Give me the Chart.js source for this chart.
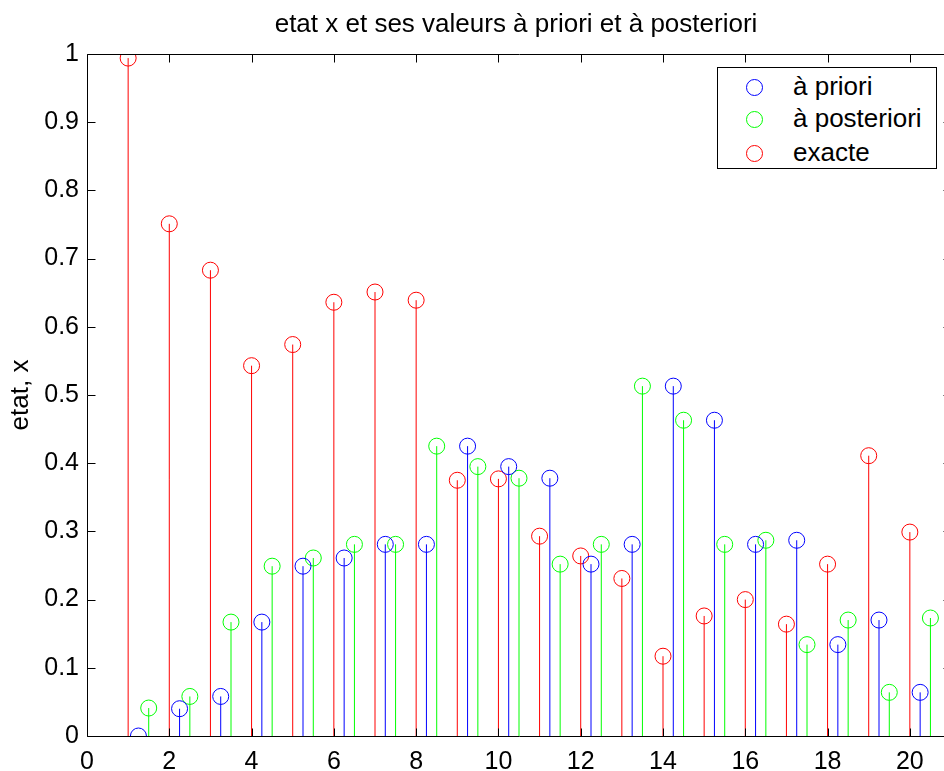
<!DOCTYPE html>
<html>
<head>
<meta charset="utf-8">
<script src="https://cdn.jsdelivr.net/npm/chart.js@4.4.1/dist/chart.umd.min.js"></script>
<style>
  html, body { margin: 0; padding: 0; background: #fff; overflow: hidden; width: 944px; height: 771px; }
  #wrap { position: relative; width: 944px; height: 771px; overflow: hidden; }
  canvas { position: absolute; left: 0; top: 0; }
  #legend {
    position: absolute; left: 717px; top: 67px; width: 220px; height: 102px;
    border: 1px solid #000; background: #fff; box-sizing: border-box;
    font-family: "Liberation Sans", Arial, sans-serif; font-size: 26px; color: #000;
  }
  .row { position: absolute; left: 0; height: 30px; line-height: 30px; white-space: nowrap; }
  .mk { position: absolute; left: 28px; top: 6px; width: 15px; height: 15px; border-radius: 50%; border: 1px solid; box-sizing: content-box; }
  .lb { position: absolute; left: 75px; top: -2px; }
</style>
</head>
<body>
<div id="wrap">
  <canvas id="c" width="960" height="771"></canvas>
  <div id="legend"></div>
</div>
<script>
// ---- data ----
const titleText = "etat x et ses valeurs à priori et à posteriori";
const yAxisLabel = "etat, x";
const seriesNames = ["à priori", "à posteriori", "exacte"];
const seriesColors = ["#0000ff", "#00ff00", "#ff0000"];

const xPriori = [1.25, 2.25, 3.25, 4.25, 5.25, 6.25, 7.25, 8.25, 9.25, 10.25, 11.25, 12.25, 13.25, 14.25, 15.25, 16.25, 17.25, 18.25, 19.25, 20.25];
const priori = [0.000, 0.040, 0.058, 0.167, 0.249, 0.261, 0.281, 0.281, 0.425, 0.395, 0.378, 0.252, 0.281, 0.513, 0.463, 0.281, 0.287, 0.134, 0.170, 0.064];

const xPosteriori = [1.5, 2.5, 3.5, 4.5, 5.5, 6.5, 7.5, 8.5, 9.5, 10.5, 11.5, 12.5, 13.5, 14.5, 15.5, 16.5, 17.5, 18.5, 19.5, 20.5];
const posteriori = [0.041, 0.058, 0.167, 0.249, 0.261, 0.281, 0.281, 0.425, 0.395, 0.378, 0.252, 0.281, 0.513, 0.463, 0.281, 0.287, 0.134, 0.170, 0.064, 0.173];

const xExacte = [1, 2, 3, 4, 5, 6, 7, 8, 9, 10, 11, 12, 13, 14, 15, 16, 17, 18, 19, 20];
const exacte = [0.994, 0.751, 0.683, 0.543, 0.574, 0.636, 0.651, 0.639, 0.375, 0.377, 0.293, 0.264, 0.231, 0.117, 0.176, 0.200, 0.164, 0.252, 0.411, 0.299];

const xTicks = [0, 2, 4, 6, 8, 10, 12, 14, 16, 18, 20];
const xTickLabels = ["0", "2", "4", "6", "8", "10", "12", "14", "16", "18", "20"];
const yTicks = [0, 0.1, 0.2, 0.3, 0.4, 0.5, 0.6, 0.7, 0.8, 0.9, 1];
const yTickLabels = ["0", "0.1", "0.2", "0.3", "0.4", "0.5", "0.6", "0.7", "0.8", "0.9", "1"];
const xRange = [0, 21];
const yRange = [0, 1];

// ---- build datasets ----
function points(xs, ys) { return xs.map((x, i) => ({ x: x, y: ys[i] })); }
function stems(xs, ys) {
  const out = [];
  xs.forEach((x, i) => { out.push({ x: x, y: 0 }); out.push({ x: x, y: ys[i] }); out.push({ x: x, y: null }); });
  return out;
}
const seriesX = [xPriori, xPosteriori, xExacte];
const seriesY = [priori, posteriori, exacte];

const datasets = [];
for (let s = 0; s < 3; s++) {
  datasets.push({
    label: seriesNames[s] + " stem",
    data: stems(seriesX[s], seriesY[s]),
    showLine: true, spanGaps: false,
    borderColor: seriesColors[s], borderWidth: 1,
    pointRadius: 0, pointHoverRadius: 0, fill: false
  });
}
for (let s = 0; s < 3; s++) {
  datasets.push({
    label: seriesNames[s],
    data: points(seriesX[s], seriesY[s]),
    showLine: false,
    borderColor: seriesColors[s], backgroundColor: "rgba(0,0,0,0)",
    pointBackgroundColor: "rgba(0,0,0,0)", pointBorderColor: seriesColors[s],
    pointBorderWidth: 1, pointRadius: 8, pointHoverRadius: 8
  });
}

const FONT = "'Liberation Sans', Arial, sans-serif";

const framePlugin = {
  id: "frame",
  afterDraw(chart) {
    const ctx = chart.ctx;
    const a = chart.chartArea;
    const xs = chart.scales.x, ys = chart.scales.y;
    ctx.save();
    ctx.strokeStyle = "#000";
    ctx.lineWidth = 1;
    ctx.beginPath();
    const L = Math.round(a.left) + 0.5, R = Math.round(a.right) + 0.5, T = Math.round(a.top) + 0.5, B = Math.round(a.bottom) + 0.5;
    ctx.rect(L, T, R - L, B - T);
    const tl = 8;
    xTicks.forEach(v => {
      const p = Math.round(xs.getPixelForValue(v)) + 0.5;
      ctx.moveTo(p, B); ctx.lineTo(p, B - tl);
      ctx.moveTo(p, T); ctx.lineTo(p, T + tl);
    });
    yTicks.forEach(v => {
      const p = Math.round(ys.getPixelForValue(v)) + 0.5;
      ctx.moveTo(L, p); ctx.lineTo(L + tl, p);
      ctx.moveTo(R, p); ctx.lineTo(R - tl, p);
    });
    ctx.stroke();
    // title, centred over the axes
    ctx.fillStyle = "#000";
    ctx.font = "26px " + FONT;
    ctx.textAlign = "center";
    ctx.textBaseline = "alphabetic";
    ctx.fillText(titleText, (a.left + a.right) / 2 - 3, 32);
    ctx.restore();
  }
};

new Chart(document.getElementById("c"), {
  type: "scatter",
  data: { datasets: datasets },
  options: {
    responsive: false,
    animation: false,
    devicePixelRatio: 1,
    layout: { padding: { left: 0, right: 8, top: 54, bottom: 0 } },
    plugins: {
      legend: { display: false },
      tooltip: { enabled: false },
      title: { display: false }
    },
    scales: {
      x: {
        type: "linear", min: xRange[0], max: xRange[1],
        grid: { display: false, drawTicks: false },
        border: { display: false },
        afterBuildTicks(scale) { scale.ticks = xTicks.map(v => ({ value: v })); },
        afterFit(scale) { scale.height = 35; },
        ticks: {
          color: "#000", font: { family: FONT, size: 25 }, padding: 11,
          maxRotation: 0, autoSkip: false,
          callback: (v) => { const i = xTicks.indexOf(v); return i >= 0 ? xTickLabels[i] : ""; }
        }
      },
      y: {
        type: "linear", min: yRange[0], max: yRange[1],
        grid: { display: false, drawTicks: false },
        border: { display: false },
        afterBuildTicks(scale) { scale.ticks = yTicks.map(v => ({ value: v })); },
        afterFit(scale) { scale.width = 87; },
        title: {
          display: true, text: yAxisLabel, color: "#000",
          font: { family: FONT, size: 26 }, padding: { top: 5, bottom: 0 }
        },
        ticks: {
          color: "#000", font: { family: FONT, size: 25 }, padding: 8, autoSkip: false,
          callback: (v) => { const i = yTicks.findIndex(t => Math.abs(t - v) < 1e-9); return i >= 0 ? yTickLabels[i] : ""; }
        }
      }
    }
  },
  plugins: [framePlugin]
});

// ---- legend ----
const leg = document.getElementById("legend");
const rowTops = [5, 37, 71];
seriesNames.forEach((n, i) => {
  const r = document.createElement("div");
  r.className = "row";
  r.style.top = rowTops[i] + "px";
  const m = document.createElement("span");
  m.className = "mk"; m.style.borderColor = seriesColors[i];
  const t = document.createElement("span");
  t.className = "lb"; t.textContent = n;
  r.appendChild(m); r.appendChild(t);
  leg.appendChild(r);
});
</script>
</body>
</html>
